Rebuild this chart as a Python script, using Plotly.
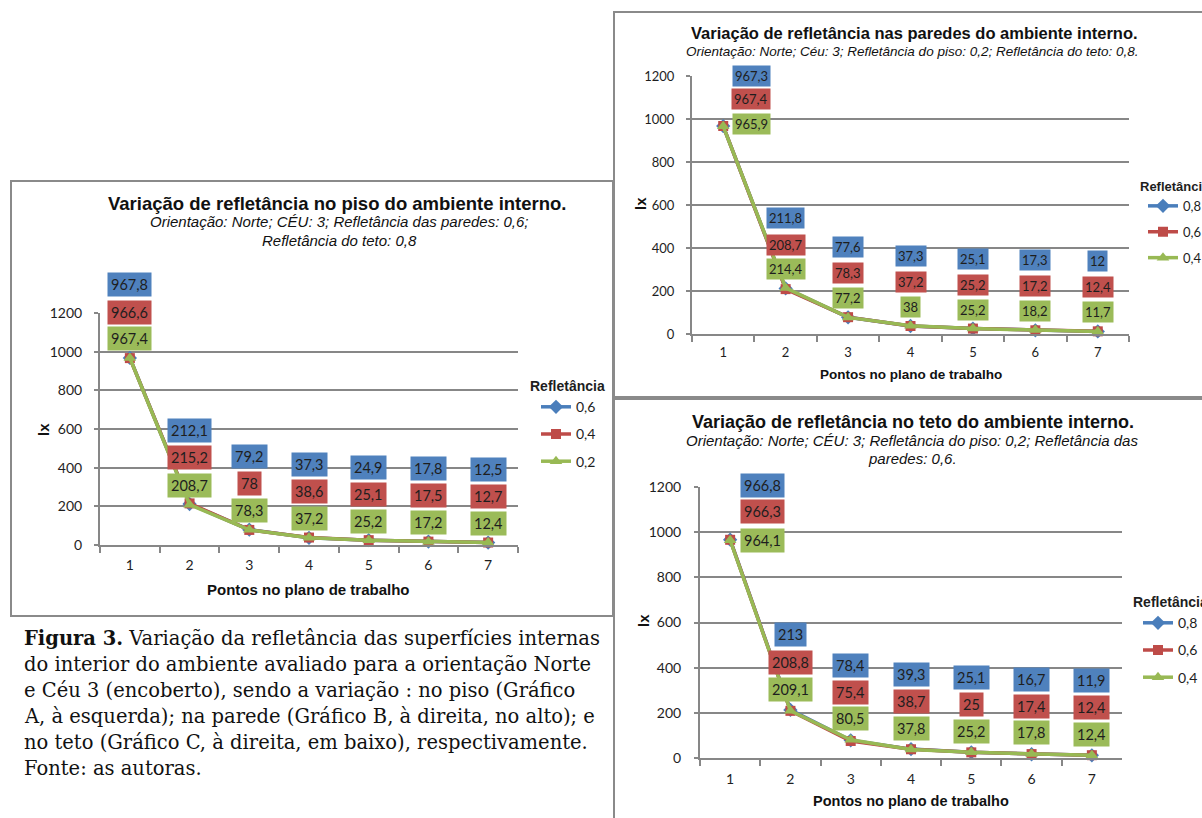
import plotly.graph_objects as go

W, H = 1202, 818

# ---------------- data ----------------
points = ["1", "2", "3", "4", "5", "6", "7"]

# Gráfico A – variação no piso
piso_names = ["0,6", "0,4", "0,2"]
piso_06 = [967.8, 212.1, 79.2, 37.3, 24.9, 17.8, 12.5]
piso_04 = [966.6, 215.2, 78.0, 38.6, 25.1, 17.5, 12.7]
piso_02 = [967.4, 208.7, 78.3, 37.2, 25.2, 17.2, 12.4]

# Gráfico B – variação nas paredes
parede_names = ["0,8", "0,6", "0,4"]
parede_08 = [967.3, 211.8, 77.6, 37.3, 25.1, 17.3, 12.0]
parede_06 = [967.4, 208.7, 78.3, 37.2, 25.2, 17.2, 12.4]
parede_04 = [965.9, 214.4, 77.2, 38.0, 25.2, 18.2, 11.7]

# Gráfico C – variação no teto
teto_names = ["0,8", "0,6", "0,4"]
teto_08 = [966.8, 213.0, 78.4, 39.3, 25.1, 16.7, 11.9]
teto_06 = [966.3, 208.8, 75.4, 38.7, 25.0, 17.4, 12.4]
teto_04 = [964.1, 209.1, 80.5, 37.8, 25.2, 17.8, 12.4]

y_ticks = [0, 200, 400, 600, 800, 1000, 1200]

caption_lines = [
    "<b>Figura 3.</b> Variação da refletância das superfícies internas",
    "do interior do ambiente avaliado para a orientação Norte",
    "e Céu 3 (encoberto), sendo a variação : no piso (Gráfico",
    "A, à esquerda); na parede (Gráfico B, à direita, no alto); e",
    "no teto (Gráfico C, à direita, em baixo), respectivamente.",
    "Fonte: as autoras.",
]

# ---------------- style ----------------
ARIAL = "Liberation Sans, Arial, sans-serif"
CAL = "Lato, Carlito, sans-serif"
SERIF = "DejaVu Serif, serif"
GRAY = "#878787"
TXT = "#1e1e1e"
LINE_COLORS = ["#4A7EBB", "#BE4B48", "#98B954"]
BOX_COLORS = ["#4F81BD", "#C0504D", "#9BBB59"]
SYMBOLS = ["diamond", "square", "triangle-up"]
SYM_SIZE = [11, 10, 11]


def px(x):
    return x / W


def py(y):
    return 1 - y / H


def fmt(v):
    return f"{v:g}".replace(".", ",")


charts = [
    dict(xa="x", ya="y", legend="legend",
         series=[piso_06, piso_04, piso_02], names=piso_names,
         xdom=(100, 518), ydom=(313, 545),
         title="Variação de refletância no piso do ambiente interno.",
         title_pos=(338, 203), title_size=18.5,
         sub=["Orientação: Norte; CÉU: 3; Refletância das paredes: 0,6;",
              "Refletância do teto: 0,8"],
         sub_pos=[(339, 222), (339, 240)], sub_size=15,
         ylab_pos=(43, 430), xlab_pos=(308, 589), xlab_size=15,
         tick_size=14, lab_size=14.5, pad=3,
         shifts=[73, 46, 19], first=([73, 46, 19], 0),
         leg=(528, 373), leg_font=14, leg_gap=6, leg_indent=8,
         y_standoff=9, x_standoff=6),
    dict(xa="x2", ya="y2", legend="legend2",
         series=[parede_08, parede_06, parede_04], names=parede_names,
         xdom=(692, 1129), ydom=(76, 334),
         title="Variação de refletância nas paredes do ambiente interno.",
         title_pos=(914, 33), title_size=16.5,
         sub=["Orientação: Norte; Céu: 3; Refletância do piso: 0,2; Refletância do teto: 0,8."],
         sub_pos=[(912, 51)], sub_size=13.5,
         ylab_pos=(640, 204), xlab_pos=(911, 374), xlab_size=13.5,
         tick_size=13, lab_size=13, pad=2,
         shifts=[70, 44, 19], first=([50, 27, 2], 28),
         leg=(1138, 174), leg_font=13, leg_gap=6, leg_indent=5,
         y_standoff=9, x_standoff=5),
    dict(xa="x3", ya="y3", legend="legend3",
         series=[teto_08, teto_06, teto_04], names=teto_names,
         xdom=(700, 1122), ydom=(487, 758),
         title="Variação de refletância no teto do ambiente interno.",
         title_pos=(913, 422), title_size=18,
         sub=["Orientação: Norte; CÉU: 3; Refletância do piso: 0,2; Refletância das",
              "paredes: 0,6."],
         sub_pos=[(912, 441), (912, 458)], sub_size=15,
         ylab_pos=(643, 621), xlab_pos=(911, 801), xlab_size=14.5,
         tick_size=14, lab_size=14.5, pad=3,
         shifts=[75, 48, 21], first=([54, 28, 0], 32),
         leg=(1131, 589), leg_font=14, leg_gap=6, leg_indent=7,
         y_standoff=10, x_standoff=7),
]

fig = go.Figure()
annotations = []
layout_axes = {}

for ci, ch in enumerate(charts):
    suffix = "" if ci == 0 else str(ci + 1)
    for si, vals in enumerate(ch["series"]):
        fig.add_trace(go.Scatter(
            x=points, y=vals, name=ch["names"][si],
            xaxis=ch["xa"], yaxis=ch["ya"], legend=ch["legend"],
            legendgroup=f"g{ci}{si}",
            mode="lines+markers",
            line=dict(color=LINE_COLORS[si], width=3.5),
            marker=dict(symbol=SYMBOLS[si], size=SYM_SIZE[si], color=LINE_COLORS[si]),
            cliponaxis=False,
            hoverinfo="x+y+name",
        ))
        # data labels (category axis -> position by category index)
        for pi, v in enumerate(vals):
            if pi == 0:
                ys = ch["first"][0][si]
                xs = ch["first"][1]
            else:
                ys = ch["shifts"][si]
                xs = 0
            annotations.append(dict(
                x=pi, y=v, xref=ch["xa"], yref=ch["ya"], text=fmt(v),
                showarrow=False, xanchor="center", yanchor="middle",
                yshift=ys, xshift=xs,
                bgcolor=BOX_COLORS[si], borderpad=ch["pad"],
                font=dict(family=CAL, size=ch["lab_size"], color=TXT),
            ))

    layout_axes["xaxis" + suffix] = dict(
        domain=[px(ch["xdom"][0]), px(ch["xdom"][1])],
        anchor=ch["ya"], type="category", categoryarray=points,
        range=[-0.5, 6.5], tickson="boundaries", ticks="outside",
        ticklen=6, tickwidth=2, tickcolor=GRAY,
        showline=True, linecolor=GRAY, linewidth=2, showgrid=False,
        zeroline=False, ticklabelstandoff=ch["x_standoff"],
        tickfont=dict(family=CAL, size=ch["tick_size"], color=TXT),
        fixedrange=True,
    )
    layout_axes["yaxis" + suffix] = dict(
        domain=[py(ch["ydom"][1]), py(ch["ydom"][0])],
        anchor=ch["xa"], range=[0, 1200], tickvals=y_ticks,
        ticktext=[str(t) for t in y_ticks], ticks="outside", ticklen=4,
        tickwidth=2, tickcolor=GRAY, showline=True, linecolor=GRAY,
        linewidth=2, showgrid=True, gridcolor=GRAY, gridwidth=2,
        zeroline=False, ticklabelstandoff=ch["y_standoff"],
        tickfont=dict(family=CAL, size=ch["tick_size"], color=TXT),
        fixedrange=True,
    )
    layout_axes[ch["legend"]] = dict(
        x=px(ch["leg"][0]), y=py(ch["leg"][1]), xanchor="left", yanchor="top",
        xref="paper", yref="paper",
        title=dict(text="<b>Refletância</b>",
                   font=dict(family=ARIAL, size=ch["leg_font"], color=TXT)),
        font=dict(family=CAL, size=ch["leg_font"], color=TXT),
        bgcolor="rgba(0,0,0,0)", borderwidth=0, tracegroupgap=ch["leg_gap"],
        itemwidth=30, indentation=ch["leg_indent"],
    )

    # titles
    annotations.append(dict(
        x=px(ch["title_pos"][0]), y=py(ch["title_pos"][1]), xref="paper", yref="paper",
        text=f"<b>{ch['title']}</b>", showarrow=False, xanchor="center", yanchor="middle",
        font=dict(family=ARIAL, size=ch["title_size"], color="#111")))
    for line, pos in zip(ch["sub"], ch["sub_pos"]):
        annotations.append(dict(
            x=px(pos[0]), y=py(pos[1]), xref="paper", yref="paper",
            text=f"<i>{line}</i>", showarrow=False, xanchor="center", yanchor="middle",
            font=dict(family=ARIAL, size=ch["sub_size"], color="#111")))
    annotations.append(dict(
        x=px(ch["ylab_pos"][0]), y=py(ch["ylab_pos"][1]), xref="paper", yref="paper",
        text="<b>lx</b>", textangle=-90, showarrow=False, xanchor="center", yanchor="middle",
        font=dict(family=ARIAL, size=15, color="#111")))
    annotations.append(dict(
        x=px(ch["xlab_pos"][0]), y=py(ch["xlab_pos"][1]), xref="paper", yref="paper",
        text="<b>Pontos no plano de trabalho</b>", showarrow=False,
        xanchor="center", yanchor="middle",
        font=dict(family=ARIAL, size=ch["xlab_size"], color="#111")))

# caption
for i, line in enumerate(caption_lines):
    annotations.append(dict(
        x=px(22), y=py(638 + 26 * i), xref="paper", yref="paper", text=line,
        showarrow=False, xanchor="left", yanchor="middle", align="left",
        font=dict(family=SERIF, size=19.5, color="#111")))

# chart frames
frames = [(11, 181, 613, 616), (614, 12, 1210, 397), (614, 399, 1210, 830)]
shapes = [dict(type="rect", xref="paper", yref="paper",
               x0=px(a), x1=px(c), y0=py(d), y1=py(b),
               line=dict(color="#8a8a8a", width=2), fillcolor="rgba(0,0,0,0)",
               layer="below")
          for a, b, c, d in frames]

fig.update_layout(
    width=W, height=H,
    margin=dict(l=0, r=0, t=0, b=0, autoexpand=False),
    paper_bgcolor="white", plot_bgcolor="white",
    annotations=annotations, shapes=shapes,
    **layout_axes,
)

fig.write_html(
    "out.html",
    config={"displayModeBar": False},
    post_script="document.body.style.margin='0';document.body.style.overflow='hidden';",
)
